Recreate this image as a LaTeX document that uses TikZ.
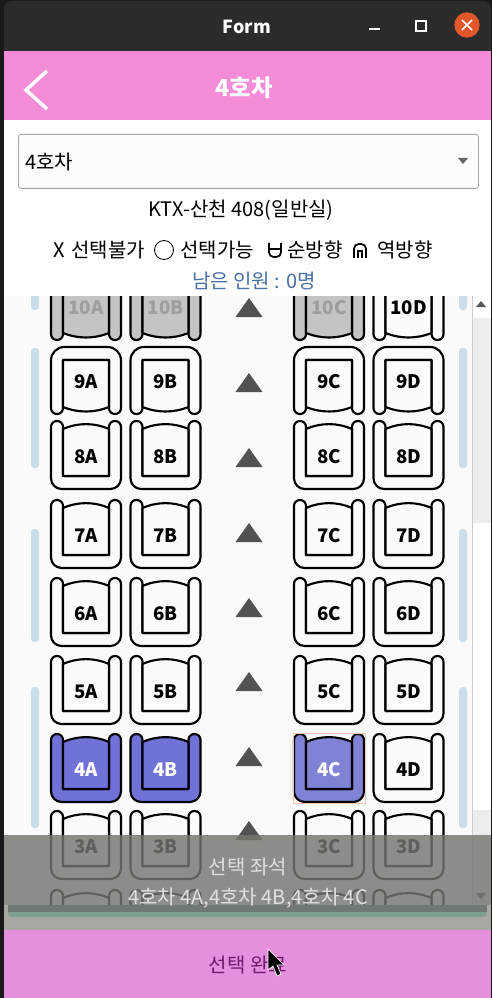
\documentclass[tikz,border=0pt]{standalone}
\usepackage{fontspec}
\setmainfont{Noto Sans CJK KR}
\usetikzlibrary{arrows.meta, positioning}
\definecolor{titlebar}{HTML}{2C2B29}
\definecolor{headerpink}{HTML}{F58CD8}
\definecolor{buttonpink}{HTML}{E68FDD}
\definecolor{seatblue}{HTML}{7072D8}
\definecolor{seatpale}{HTML}{8082D6}
\definecolor{seatgrey}{HTML}{C4C4C4}
\definecolor{seatwhite}{HTML}{FBFBFB}
\definecolor{stripblue}{HTML}{C9DDEA}
\definecolor{closeorange}{HTML}{E2572A}
\definecolor{remainblue}{HTML}{4A70A8}
\definecolor{overlaygrey}{HTML}{757570}
\definecolor{bandgrey}{HTML}{6F7874}
\definecolor{bandgreen}{HTML}{7FA090}
\definecolor{lowergrey}{HTML}{A8A8A2}
\definecolor{donepurple}{HTML}{701A70}
\tikzset{
    seatline/.style={line width=1.6pt, draw=black, line join=round},
    seatlabel/.style={font=\bfseries\fontsize{14}{16}\selectfont},
    strip/.style={fill=stripblue, rounded corners=2.5pt, draw=none},
    dirmark/.style={fill=black!68},
    uitext/.style={font=\fontsize{15}{18}\selectfont, inner sep=0pt}
}
% forward seat: name, x, y, fill, text colour
\newcommand{\seatfwd}[5]{
    \draw[seatline, fill=#4] (#2, #3+33) [rounded corners=8pt] -- (#2-35, #3+33) [rounded corners=4.4pt] -- (#2-35, #3-35) -- (#2-23, #3-35) [sharp corners] -- (#2-23, #3+20) -- (#2+23, #3+20) [rounded corners=4.4pt] -- (#2+23, #3-35) -- (#2+35, #3-35) [rounded corners=8pt] -- (#2+35, #3+33) -- cycle;
    \draw[seatline, fill=#4] (#2-23, #3+20) -- (#2+23, #3+20) -- (#2+23, #3-27) .. controls (#2+8, #3-33.5) and (#2-8, #3-33.5) .. (#2-23, #3-27) -- cycle;
    \node[seatlabel, text=#5] (s#1) at (#2, #3+1) {#1};
}
% reversed seat
\newcommand{\seatrev}[5]{
    \draw[seatline, fill=#4] (#2, #3-34) [rounded corners=10pt] -- (#2-35, #3-34) [rounded corners=4.4pt] -- (#2-35, #3+33) -- (#2-23, #3+33) [sharp corners] -- (#2-23, #3-21) -- (#2+23, #3-21) [rounded corners=4.4pt] -- (#2+23, #3+33) -- (#2+35, #3+33) [rounded corners=10pt] -- (#2+35, #3-34) -- cycle;
    \draw[seatline, fill=#4] (#2-23, #3-21) -- (#2+23, #3-21) -- (#2+23, #3+26) .. controls (#2+8, #3+32) and (#2-8, #3+32) .. (#2-23, #3+26) -- cycle;
    \node[seatlabel, text=#5] (s#1) at (#2, #3+1) {#1};
}
% direction mark, given the y of its base
\newcommand{\dirtri}[1]{
    \fill[dirmark] (249, #1-19) -- (262.5, #1) -- (235.5, #1) -- cycle;
}
\begin{document}
\begin{tikzpicture}[x=0.75pt, y=-0.75pt]
    \useasboundingbox (0, 0) rectangle (492, 998);
    \fill[black!90] (0, 0) rectangle (492, 998);
    \fill[black!2] (4, 296) rectangle (472, 905);
    \fill[white] (472, 296) rectangle (491, 905);
    \fill[black!7] (472, 318) rectangle (491, 523);
    \fill[black!7] (472, 810) rectangle (491, 905);
    \draw[black!20, line width=0.5pt] (472, 296) -- (472, 905);

    % strips at the sides
    \fill[strip] (31, 290) rectangle (39, 310);
    \fill[strip] (31, 348) rectangle (39, 468);
    \fill[strip] (31, 529) rectangle (39, 642);
    \fill[strip] (31, 687) rectangle (39, 828);
    \fill[strip] (459, 290) rectangle (467, 310);
    \fill[strip] (459, 348) rectangle (467, 468);
    \fill[strip] (459, 529) rectangle (467, 642);
    \fill[strip] (459, 687) rectangle (467, 828);

    % seats
    \seatrev{10A}{86}{307}{seatgrey}{black!38}
    \seatrev{10B}{165.5}{307}{seatgrey}{black!38}
    \seatrev{10C}{329}{307}{seatgrey}{black!38}
    \seatrev{10D}{408.5}{307}{seatwhite}{black}
    \seatrev{9A}{86}{381}{seatwhite}{black}
    \seatrev{9B}{165.5}{381}{seatwhite}{black}
    \seatrev{9C}{329}{381}{seatwhite}{black}
    \seatrev{9D}{408.5}{381}{seatwhite}{black}
    \seatfwd{8A}{86}{456}{seatwhite}{black}
    \seatfwd{8B}{165.5}{456}{seatwhite}{black}
    \seatfwd{8C}{329}{456}{seatwhite}{black}
    \seatfwd{8D}{408.5}{456}{seatwhite}{black}
    \seatfwd{7A}{86}{535}{seatwhite}{black}
    \seatfwd{7B}{165.5}{535}{seatwhite}{black}
    \seatfwd{7C}{329}{535}{seatwhite}{black}
    \seatfwd{7D}{408.5}{535}{seatwhite}{black}
    \seatfwd{6A}{86}{613}{seatwhite}{black}
    \seatfwd{6B}{165.5}{613}{seatwhite}{black}
    \seatfwd{6C}{329}{613}{seatwhite}{black}
    \seatfwd{6D}{408.5}{613}{seatwhite}{black}
    \seatfwd{5A}{86}{691}{seatwhite}{black}
    \seatfwd{5B}{165.5}{691}{seatwhite}{black}
    \seatfwd{5C}{329}{691}{seatwhite}{black}
    \seatfwd{5D}{408.5}{691}{seatwhite}{black}
    \seatfwd{4A}{86}{769}{seatblue}{white}
    \seatfwd{4B}{165.5}{769}{seatblue}{white}
    \seatfwd{4C}{329}{769}{seatpale}{white}
    \seatfwd{4D}{408.5}{769}{seatwhite}{black}
    \seatfwd{3A}{86}{846}{seatwhite}{black}
    \seatfwd{3B}{165.5}{846}{seatwhite}{black}
    \seatfwd{3C}{329}{846}{seatwhite}{black}
    \seatfwd{3D}{408.5}{846}{seatwhite}{black}
    \seatfwd{2A}{86}{925}{seatwhite}{black}
    \seatfwd{2B}{165.5}{925}{seatwhite}{black}
    \seatfwd{2C}{329}{925}{seatwhite}{black}
    \seatfwd{2D}{408.5}{925}{seatwhite}{black}
    \draw[orange!60!red!30, line width=0.5pt] (293, 733) rectangle (365, 803);

    % direction marks
    \dirtri{317}
    \dirtri{392}
    \dirtri{467}
    \dirtri{542}
    \dirtri{617}
    \dirtri{691}
    \dirtri{766}
    \dirtri{840}

    % scroll bar buttons
    \fill[black!65] (476, 307) -- (486, 307) -- (481, 301) -- cycle;
    \fill[black!65] (476, 893) -- (486, 893) -- (481, 899) -- cycle;

    % upper panels, they hide the top of row 10
    \fill[white] (4, 120) rectangle (491, 296);
    \fill[titlebar, rounded corners=6pt] (4, 1) rectangle (491, 60);
    \fill[headerpink] (4, 51) rectangle (491, 120);

    % title bar
    \node[text=white, font=\bfseries\fontsize{13.5}{16}\selectfont] (formtitle) at (247, 27) {Form};
    \draw[white, line width=0.9pt] (369, 29) -- (380, 29);
    \draw[white, line width=0.9pt] (416, 21) rectangle (426, 31);
    \node[circle, fill=closeorange, minimum size=19pt, inner sep=0pt] (closebtn) at (467, 25) {};
    \draw[white, line width=1.1pt] (462, 20) -- (472, 30) (462, 30) -- (472, 20);

    % header
    \draw[white, line width=2.6pt] (47, 71) -- (26, 90) -- (47, 109);
    \node[text=white, font=\bfseries\fontsize{17.5}{20}\selectfont] (headertitle) at (244, 88) {4호차};

    % combo box
    \node[draw=black!35, fill=black!1, rounded corners=2pt, minimum width=345pt, minimum height=40.5pt, inner sep=0pt, line width=0.6pt, anchor=north west] (combo) at (18, 134) {};
    \node[uitext, anchor=west] (combotext) at (25, 162) {4호차};
    \fill[black!60] (458, 158) -- (468, 158) -- (463, 164) -- cycle;

    % info lines
    \node[uitext] (trainname) at (241, 210) {KTX-산천 408(일반실)};
    \node[uitext] (legendx) at (59, 250) {X};
    \node[uitext, anchor=west] (legendno) at (71, 250) {선택불가};
    \node[draw, circle, minimum size=14.25pt, inner sep=0pt, line width=0.6pt] (legendfree) at (164, 250) {};
    \node[uitext, anchor=west] (legendyes) at (180, 250) {선택가능};
    \draw[line width=1.3pt, rounded corners=3.5pt] (269, 243) -- (269, 257) -- (281, 257) -- (281, 243);
    \draw[line width=1.1pt] (269, 249) -- (281, 249);
    \node[uitext, anchor=west] (legendfwd) at (287, 250) {순방향};
    \draw[line width=1.3pt, rounded corners=3.5pt] (354, 258) -- (354, 244) -- (366, 244) -- (366, 258);
    \draw[line width=1.1pt] (358, 258) -- (358, 251) -- (362, 251) -- (362, 258);
    \node[uitext, anchor=west] (legendrev) at (377, 250) {역방향};
    \node[uitext, text=remainblue] (remain) at (254, 281) {남은 인원 : 0명};

    % overlay at the bottom
    \fill[overlaygrey, opacity=0.82] (4, 835) rectangle (491, 905);
    \fill[lowergrey] (4, 905) rectangle (491, 930);
    \fill[bandgreen] (8, 905) [rounded corners=3pt] -- (8, 917) -- (487, 917) [sharp corners] -- (487, 905) -- cycle;
    \fill[bandgrey] (8, 905) rectangle (487, 912);
    \node[uitext, text=black!12] (chosentitle) at (248, 867) {선택 좌석};
    \node[uitext, text=black!12] (chosenlist) at (248, 898) {4호차 4A,4호차 4B,4호차 4C};

    % button
    \fill[buttonpink] (4, 930) rectangle (491, 998);
    \node[uitext, text=donepurple] (donebtn) at (248, 965) {선택 완료};

    % mouse pointer
    \fill[black, draw=white, line width=0.5pt, line join=round] (268, 949) -- (268, 970) -- (273, 966) -- (277, 976) -- (281, 974) -- (277, 965) -- (284, 965) -- cycle;
\end{tikzpicture}
\end{document}
